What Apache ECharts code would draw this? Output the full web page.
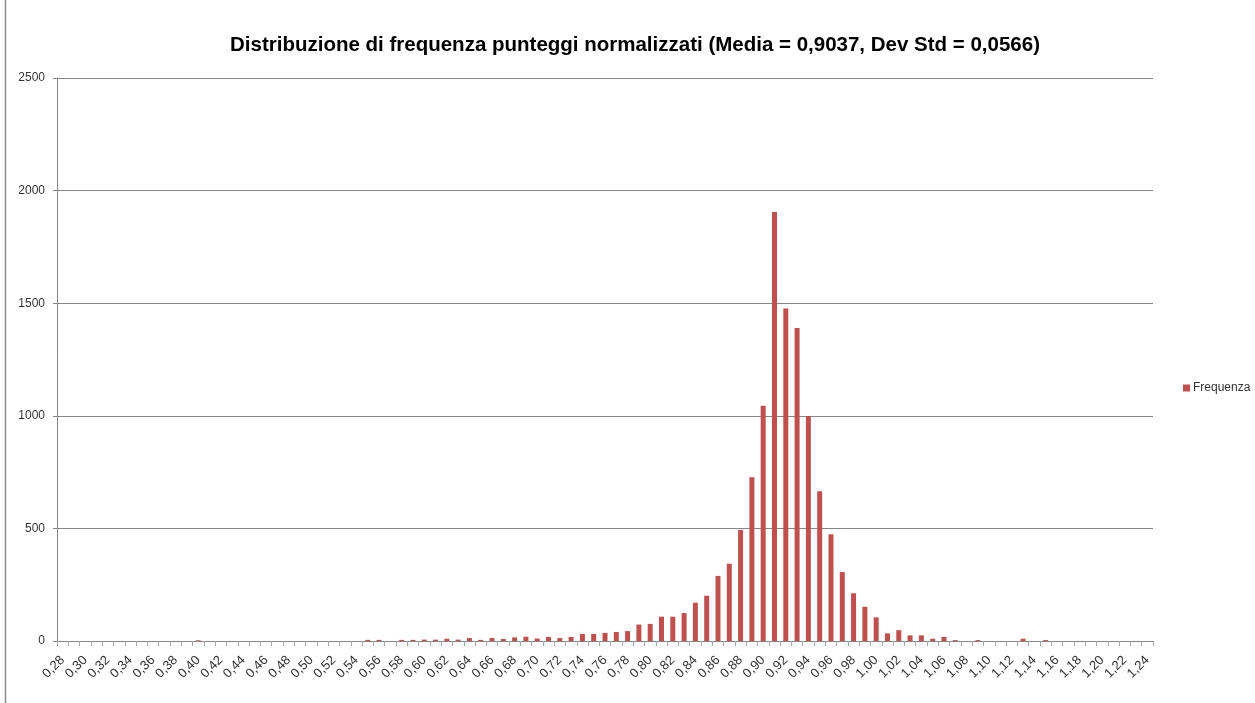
<!DOCTYPE html>
<html>
<head>
<meta charset="utf-8">
<script src="https://cdn.jsdelivr.net/npm/echarts@6/dist/echarts.min.js"></script>
<style>
  html, body { margin: 0; padding: 0; background: #fff; }
  #myChart { width: 1255px; height: 703px; }
</style>
</head>
<body>
<div id="myChart"></div>
<script>
// classi di punteggio normalizzato
const categories = [
  "0,28", "0,29", "0,30", "0,31", "0,32", "0,33", "0,34", "0,35", "0,36", "0,37",
  "0,38", "0,39", "0,40", "0,41", "0,42", "0,43", "0,44", "0,45", "0,46", "0,47",
  "0,48", "0,49", "0,50", "0,51", "0,52", "0,53", "0,54", "0,55", "0,56", "0,57",
  "0,58", "0,59", "0,60", "0,61", "0,62", "0,63", "0,64", "0,65", "0,66", "0,67",
  "0,68", "0,69", "0,70", "0,71", "0,72", "0,73", "0,74", "0,75", "0,76", "0,77",
  "0,78", "0,79", "0,80", "0,81", "0,82", "0,83", "0,84", "0,85", "0,86", "0,87",
  "0,88", "0,89", "0,90", "0,91", "0,92", "0,93", "0,94", "0,95", "0,96", "0,97",
  "0,98", "0,99", "1,00", "1,01", "1,02", "1,03", "1,04", "1,05", "1,06", "1,07",
  "1,08", "1,09", "1,10", "1,11", "1,12", "1,13", "1,14", "1,15", "1,16", "1,17",
  "1,18", "1,19", "1,20", "1,21", "1,22", "1,23", "1,24"
];

const frequenza = [
  0, 0, 0, 0, 0, 0, 0, 0, 0, 0,
  0, 0, 3, 0, 0, 0, 0, 0, 0, 0,
  0, 0, 0, 0, 0, 0, 0, 5, 5, 0,
  5, 5, 6, 6, 10, 6, 13, 5, 13, 9,
  16, 19, 11, 18, 13, 18, 31, 31, 36, 40,
  44, 73, 76, 108, 108, 124, 170, 201, 289, 343,
  493, 727, 1045, 1905, 1477, 1390, 999, 665, 474, 306,
  212, 152, 105, 34, 48, 25, 25, 10, 18, 4,
  0, 4, 0, 0, 0, 10, 0, 4, 0, 0,
  0, 0, 0, 0, 0, 0, 0
];

const yTicks = { min: 0, max: 2500, step: 500 };

let myChart = echarts.init(document.getElementById("myChart"));
myChart.setOption({
  animation: false,
  textStyle: { fontFamily: "Liberation Sans, sans-serif" },
  title: {
    text: "Distribuzione di frequenza punteggi normalizzati (Media = 0,9037, Dev Std = 0,0566)",
    left: 630,
    textAlign: "center",
    top: 30,
    textStyle: {
      fontFamily: "Liberation Sans, sans-serif",
      fontSize: 20.5,
      fontWeight: "bold",
      color: "#000",
    },
  },
  legend: {
    data: ["Frequenza"],
    orient: "vertical",
    left: 1178,
    top: 377,
    icon: "rect",
    itemWidth: 7,
    itemHeight: 7,
    itemGap: 4,
    textStyle: { fontSize: 12, color: "#333", padding: [0, 0, 0, -2] },
  },
  grid: {
    left: 57,
    right: 102,
    top: 78,
    bottom: 62,
  },
  xAxis: {
    type: "category",
    data: categories,
    boundaryGap: true,
    axisLine: { lineStyle: { color: "#868686", width: 1 } },
    axisTick: { show: true, interval: 0, length: 5, lineStyle: { color: "#a6a6a6" } },
    axisLabel: {
      interval: 1,
      rotate: 45,
      fontSize: 13,
      color: "#333",
      margin: 17,
    },
  },
  yAxis: {
    type: "value",
    min: yTicks.min,
    max: yTicks.max,
    interval: yTicks.step,
    axisLine: { show: true, lineStyle: { color: "#868686" } },
    axisTick: { show: true, length: 4, lineStyle: { color: "#868686" } },
    axisLabel: { fontSize: 12, color: "#333", margin: 12, formatter: (v) => String(v) },
    splitLine: { lineStyle: { color: "#868686", width: 1 } },
  },
  graphic: [
    {
      type: "line",
      shape: { x1: 5.5, y1: 0, x2: 5.5, y2: 703 },
      style: { stroke: "#8c8c8c", lineWidth: 1.5 },
    },
  ],
  series: [
    {
      name: "Frequenza",
      type: "bar",
      data: frequenza,
      barWidth: 5,
      itemStyle: { color: "#C0504D" },
    },
  ],
});
</script>
</body>
</html>
